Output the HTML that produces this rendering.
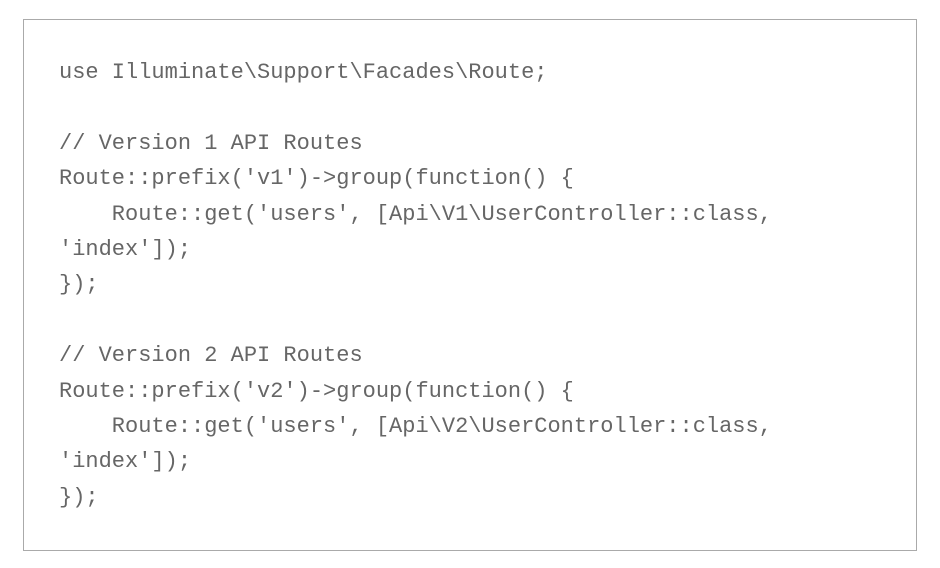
<!DOCTYPE html>
<html><head><meta charset="utf-8"><style>
html,body{margin:0;padding:0;background:#fff;width:940px;height:568px;overflow:hidden}
.box{position:absolute;left:23px;top:19px;width:892px;height:530px;border:1px solid #aaa;}
pre{position:absolute;left:59px;top:55px;margin:0;font-family:"Liberation Mono",monospace;font-size:22px;line-height:35.4px;color:#666;}
</style></head><body>
<div class="box"></div>
<pre>use Illuminate\Support\Facades\Route;

// Version 1 API Routes
Route::prefix('v1')-&gt;group(function() {
    Route::get('users', [Api\V1\UserController::class,
'index']);
});

// Version 2 API Routes
Route::prefix('v2')-&gt;group(function() {
    Route::get('users', [Api\V2\UserController::class,
'index']);
});</pre>
</body></html>
